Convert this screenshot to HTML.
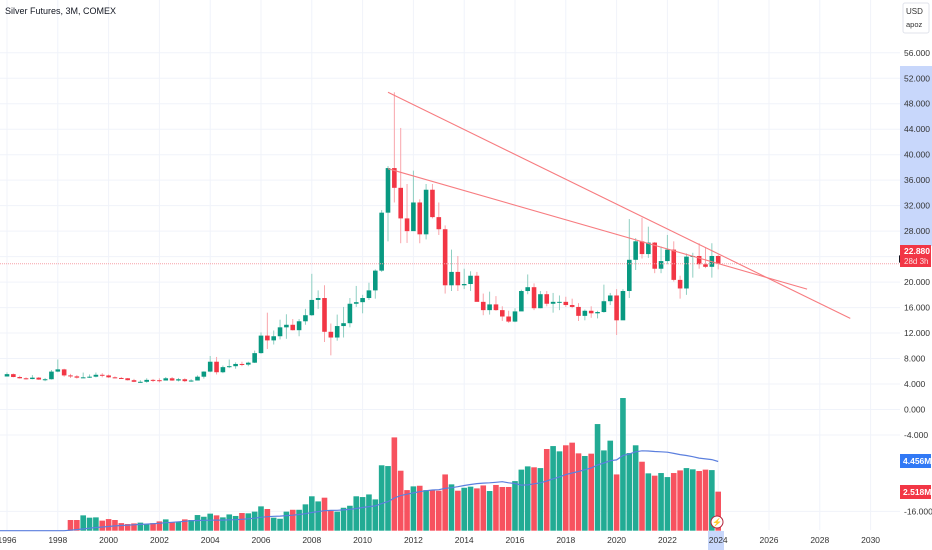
<!DOCTYPE html>
<html><head><meta charset="utf-8"><style>
html,body{margin:0;padding:0;background:#fff;width:932px;height:550px;overflow:hidden;font-family:"Liberation Sans",sans-serif}
svg text{font-family:"Liberation Sans",sans-serif}
</style></head><body>
<svg id="chart" width="932" height="550" xmlns="http://www.w3.org/2000/svg">
<g id="grid"></g>
<g id="vol"></g>
<g id="candles"></g>
<g id="lines"></g>
<g id="axis"></g>
<g id="taxis"></g>
<text x="5" y="14" font-size="9" fill="#131722">Silver Futures, 3M, COMEX</text>
</svg>
<script>
const priceTicks = [56,52,48,44,40,36,32,28,24,20,16,12,8,4,0,-4,-16];
const yearTicks = [1996,1998,2000,2002,2004,2006,2008,2010,2012,2014,2016,2018,2020,2022,2024,2026,2028,2030];
const closes = [5.55,5.10,4.90,4.78,5.00,4.70,4.75,5.95,6.30,5.35,5.20,5.00,5.05,5.15,5.45,5.35,5.05,4.95,4.90,4.60,4.35,4.35,4.65,4.60,4.55,4.90,4.55,4.75,4.45,4.55,5.15,5.95,7.50,5.85,6.65,6.80,7.15,7.05,7.35,8.85,11.60,10.85,11.50,12.90,13.30,12.45,13.85,14.80,17.20,17.50,12.20,11.30,13.10,13.55,16.60,16.85,17.50,18.70,21.80,30.90,37.90,34.80,30.00,28.00,32.50,27.50,34.50,30.20,28.30,19.50,21.60,19.50,19.70,21.00,16.90,15.60,16.50,15.60,14.60,13.80,15.40,18.60,19.20,15.90,18.10,16.60,16.90,16.90,16.40,16.10,14.70,15.50,15.10,15.30,17.00,17.90,14.00,18.60,23.50,26.40,24.40,26.20,22.10,23.30,25.10,20.35,19.00,24.00,24.10,22.80,22.40,24.10,22.88];
const highs = [5.83,5.65,5.30,5.05,5.40,5.10,4.95,6.20,7.85,6.40,5.60,5.40,5.80,5.50,5.80,5.70,5.50,5.20,5.10,4.95,4.80,4.60,4.90,4.80,4.90,5.10,5.10,4.95,4.90,4.75,5.35,6.00,8.40,8.25,6.90,7.85,7.40,7.50,7.50,9.25,12.10,15.20,12.40,14.10,14.95,14.20,14.20,15.80,21.30,18.70,19.50,13.50,14.90,16.10,17.50,19.40,18.00,19.90,22.00,31.30,38.20,49.80,44.20,35.40,37.50,33.00,35.40,35.40,32.50,28.90,25.10,24.10,22.10,21.70,21.60,18.20,18.50,17.80,16.20,15.50,15.90,18.80,21.20,19.80,18.60,18.60,18.30,17.90,17.70,17.40,16.70,15.70,16.20,15.50,19.60,18.30,18.90,18.90,29.90,26.90,30.10,28.70,26.30,25.60,27.40,26.40,21.00,24.50,24.60,26.10,25.50,26.10,24.30];
const lows = [5.20,5.05,4.85,4.70,4.75,4.65,4.45,4.70,5.85,5.15,4.95,4.85,5.00,4.95,5.05,5.05,4.95,4.90,4.80,4.55,4.30,4.20,4.20,4.30,4.25,4.55,4.50,4.40,4.30,4.35,4.60,4.85,5.85,5.50,5.70,6.50,6.40,6.80,6.80,7.30,8.75,9.50,10.20,11.00,11.10,12.40,11.50,13.30,14.70,15.80,10.60,8.50,10.80,11.30,12.90,16.10,15.10,17.20,17.40,21.60,26.40,32.50,26.10,26.15,28.20,26.10,26.70,30.00,27.40,18.20,18.60,18.60,18.90,18.60,17.10,14.80,14.90,15.50,13.90,13.60,13.70,15.60,18.10,15.60,15.90,16.20,15.20,15.60,16.10,15.90,13.90,14.00,14.40,14.30,15.20,16.40,11.70,14.10,17.50,21.90,23.70,23.80,21.40,21.40,22.80,20.10,17.40,18.00,20.70,22.10,22.20,20.70,22.00];
const firstOpen = 5.18;
const volumes = [0,0,0,0,0,0,0,0,0,0,0.69,0.69,0.99,0.84,0.86,0.65,0.75,0.69,0.49,0.43,0.47,0.52,0.43,0.49,0.60,0.73,0.56,0.56,0.73,0.69,1.01,0.90,1.10,0.99,0.86,1.05,0.95,1.14,1.12,1.23,1.57,1.40,0.84,0.77,1.23,1.35,1.35,1.70,2.22,1.89,2.13,1.27,1.23,1.48,1.61,2.22,2.17,2.34,2.02,4.22,4.17,6.02,3.87,2.62,2.86,2.90,2.62,2.62,2.58,3.63,2.99,2.58,2.77,2.84,2.73,2.92,2.56,2.95,2.82,2.82,3.20,3.94,4.15,4.09,4.04,5.27,5.46,5.12,5.51,5.68,4.99,4.82,4.97,6.88,5.18,5.81,3.63,8.56,5.01,5.51,4.45,3.70,3.55,3.72,3.46,3.72,3.89,4.04,3.96,3.85,3.94,3.91,2.52];
const lastPrice = 22.88;
const trend1 = [[2011.0,49.8],[2029.2,14.3]];
const trend2 = [[2011.0,37.8],[2027.5,18.9]];

const NS="http://www.w3.org/2000/svg";
function mk(tag,attrs,parent){const e=document.createElementNS(NS,tag);for(const k in attrs)e.setAttribute(k,attrs[k]);parent.appendChild(e);return e;}
const yP=v=>409.5-6.37*v;
const xY=yr=>7+(yr-1996)*25.4;
const xI=i=>xY(1996+i*0.25);
const VB=530.7, yV=v=>VB-v*15.5;
const G=document.getElementById('grid'),V=document.getElementById('vol'),C=document.getElementById('candles'),L=document.getElementById('lines'),A=document.getElementById('axis'),T=document.getElementById('taxis');

yearTicks.forEach(yr=>{const l=mk('line',{x1:xY(yr),x2:xY(yr),y1:0,y2:530,stroke:'#f0f3fa','stroke-width':1},G);

});
priceTicks.forEach(p=>{const l=mk('line',{x1:0,x2:900,y1:yP(p),y2:yP(p),stroke:'#f0f3fa','stroke-width':1},G);

});

// volume
volumes.forEach((v,i)=>{if(v<=0)return;const o=i?closes[i-1]:firstOpen;const up=closes[i]>=o;
const r=mk('rect',{x:xI(i)-2.8,y:yV(v),width:5.6,height:VB-yV(v),fill:up?'#22ab94':'#f7525f'},V);

});
// volume MA 20
let pts=[];for(let i=0;i<volumes.length;i++){let s=0,n=0;for(let j=Math.max(0,i-19);j<=i;j++){s+=volumes[j];n++;}pts.push(xI(i).toFixed(1)+','+yV(s/20).toFixed(1));}
pts.unshift('0,'+VB);
const ma=mk('polyline',{points:pts.join(' '),fill:'none',stroke:'#5b7fde','stroke-width':1.2},V);



// candles
closes.forEach((c,i)=>{const o=i?closes[i-1]:firstOpen;const up=c>=o;const x=xI(i);
const w=mk('line',{x1:x,x2:x,y1:yP(highs[i]),y2:yP(lows[i]),stroke:up?'#8fcfc2':'#f8a5ab','stroke-width':1},C);


const t=yP(Math.max(o,c)),b=yP(Math.min(o,c));
const r=mk('rect',{x:x-2.3,y:t,width:4.6,height:Math.max(1,b-t),fill:up?'#089981':'#f23645'},C);

});

// last price line
const pl=mk('line',{x1:0,x2:900,y1:yP(lastPrice),y2:yP(lastPrice),stroke:'#f7a1a8','stroke-width':1,'stroke-dasharray':'1 1'},L);


[trend1,trend2].forEach(tl=>{const l=mk('line',{x1:xY(tl[0][0]),y1:yP(tl[0][1]),x2:xY(tl[1][0]),y2:yP(tl[1][1]),stroke:'#f77c80','stroke-width':1.1},L);

});

// price axis
const hl=mk('rect',{x:900,y:66,width:32,height:180,fill:'#c8d7fb'},A);


priceTicks.forEach(p=>{const t=mk('text',{x:904,y:yP(p)+3,'font-size':8.5,fill:'#333'},A);t.textContent=p.toFixed(3);

});
const box=mk('rect',{x:903,y:3,width:26,height:30,rx:2,fill:'#fff',stroke:'#e0e3eb'},A);


const u1=mk('text',{x:906,y:14,'font-size':8,fill:'#333'},A);u1.textContent='USD';


const u2=mk('text',{x:906,y:27,'font-size':7.5,fill:'#333'},A);u2.textContent='apoz';


const tri=mk('path',{d:'M899,255 L904,259 L899,263 Z',fill:'#131722'},A);


const lp=mk('rect',{x:900,y:245,width:31,height:22,fill:'#f23645'},A);


const lt=mk('text',{x:904,y:254,'font-size':8.5,fill:'#fff','font-weight':'bold'},A);lt.textContent='22.880';


const ct=mk('text',{x:904,y:264,'font-size':8,fill:'#fde0e2'},A);ct.textContent='28d 3h';


const vb=mk('rect',{x:900,y:454,width:31,height:14,fill:'#3179f5'},A);


const vt=mk('text',{x:903,y:464,'font-size':8.5,fill:'#fff','font-weight':'bold'},A);vt.textContent='4.456M';


const rb=mk('rect',{x:900,y:485,width:31,height:14,fill:'#f23645'},A);


const rt=mk('text',{x:903,y:495,'font-size':8.5,fill:'#fff','font-weight':'bold'},A);rt.textContent='2.518M';



// time axis
const th=mk('rect',{x:708,y:531,width:16,height:19,fill:'#c8d7fb'},T);


yearTicks.forEach(yr=>{const t=mk('text',{x:xY(yr),y:543,'font-size':8.5,fill:'#333','text-anchor':'middle'},T);t.textContent=yr;

});
const ic=mk('circle',{cx:717,cy:522,r:6,fill:'#fff',stroke:'#b2243a','stroke-width':1},T);


const ig=mk('text',{x:717,y:525,'font-size':8,fill:'#b2243a','text-anchor':'middle'},T);ig.textContent='⚡';


</script>
</body></html>
